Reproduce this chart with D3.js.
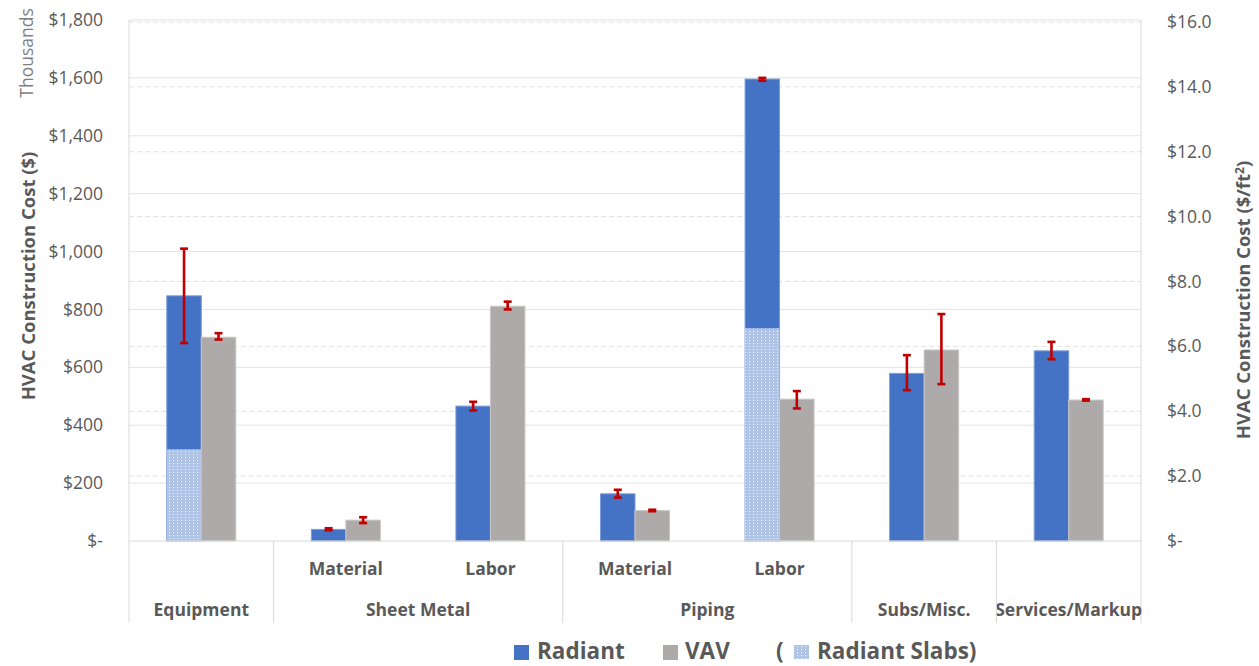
<!DOCTYPE html>
<html><head><meta charset="utf-8">
<script src="https://cdn.jsdelivr.net/npm/d3@7"></script>
<style>
html,body{margin:0;padding:0;background:#fff;}
svg text{font-family:"Open Sans","Noto Sans",sans-serif;}
</style></head>
<body>
<svg id="chart" width="1259" height="666"></svg>
<script>
// ---- data (thousands of $) ----
const subLabels = ["", "Material", "Labor", "Material", "Labor", "", ""];
const groupLabels = [
  {label:"Equipment", from:0, to:0},
  {label:"Sheet Metal", from:1, to:2},
  {label:"Piping", from:3, to:4},
  {label:"Subs/Misc.", from:5, to:5},
  {label:"Services/Markup", from:6, to:6}
];
const radiant      = [847, 40, 466, 163, 1596, 579, 657];
const radiantSlabs = [317, 0, 0, 0, 735, 0, 0];
const vav          = [704, 72, 811, 105, 490, 660, 487];
const radiantErrLow  = [684, 37, 451, 150, 1590, 521, 628];
const radiantErrHigh = [1010, 44, 481, 177, 1600, 642, 688];
const vavErrLow  = [696, 62, 800, 103, 458, 542, 485];
const vavErrHigh = [718, 82, 827, 108, 518, 784, 490];
const leftTicks  = [0, 200, 400, 600, 800, 1000, 1200, 1400, 1600, 1800];
const rightTicks = [0, 2, 4, 6, 8, 10, 12, 14, 16];

// ---- layout ----
const L = 129, R = 1141, T = 20, B = 541, AXB = 623;
const svg = d3.select("#chart");

const defs = svg.append("defs");
const pat = defs.append("pattern").attr("id","slab").attr("patternUnits","userSpaceOnUse")
  .attr("width",4).attr("height",3);
pat.append("rect").attr("width",4).attr("height",3).attr("fill","#b0c4e8");
pat.append("rect").attr("x",1).attr("y",1).attr("width",1).attr("height",1).attr("fill","#ffffff").attr("opacity",0.85);

const idx = d3.range(radiant.length);
const x0 = d3.scaleBand().domain(idx).range([L, R]).padding(0);
const y = d3.scaleLinear().domain([0, 1800]).range([B, T]);
const y2 = d3.scaleLinear().domain([0, 16]).range([B, 22]);
const bw = x0.bandwidth() * 0.2386;
const x1 = d3.scaleBand().domain(["radiant","vav"]).range([0, 2*bw]);
const off = (x0.bandwidth() - 2*bw) / 2;

// gridlines
const grid = svg.append("g");
grid.selectAll("line.solid").data(leftTicks.filter(d=>d>0)).join("line")
  .attr("x1",L).attr("x2",R).attr("y1",d=>y(d)).attr("y2",d=>y(d))
  .attr("stroke","#e3e3e3").attr("stroke-width",1);
grid.selectAll("line.dash").data(rightTicks.filter(d=>d>0)).join("line")
  .attr("x1",L).attr("x2",R).attr("y1",d=>y2(d)).attr("y2",d=>y2(d))
  .attr("stroke","#e0e0e0").attr("stroke-width",1).attr("stroke-dasharray","5,3");

// frame lines
svg.append("line").attr("x1",L).attr("x2",L).attr("y1",T).attr("y2",AXB).attr("stroke","#d9d9d9");
svg.append("line").attr("x1",R).attr("x2",R).attr("y1",T).attr("y2",AXB).attr("stroke","#d9d9d9");

// bars
const bars = svg.append("g");
bars.selectAll("rect.rad").data(idx).join("rect")
  .attr("x", i => x0(i) + off + x1("radiant"))
  .attr("y", i => y(radiant[i]))
  .attr("width", x1.bandwidth())
  .attr("height", i => y(0) - y(radiant[i]))
  .attr("fill","#4472c4").attr("stroke","#7d9bd6").attr("stroke-width",1);
bars.selectAll("rect.slab").data(idx.filter(i=>radiantSlabs[i]>0)).join("rect")
  .attr("x", i => x0(i) + off + x1("radiant"))
  .attr("y", i => y(radiantSlabs[i]))
  .attr("width", x1.bandwidth())
  .attr("height", i => y(0) - y(radiantSlabs[i]))
  .attr("fill","url(#slab)");
bars.selectAll("rect.vav").data(idx).join("rect")
  .attr("x", i => x0(i) + off + x1("vav"))
  .attr("y", i => y(vav[i]))
  .attr("width", x1.bandwidth())
  .attr("height", i => y(0) - y(vav[i]))
  .attr("fill","#aeaaaa").attr("stroke","#c9c6c6").attr("stroke-width",1);

// zero axis line
svg.append("line").attr("x1",L).attr("x2",R).attr("y1",B).attr("y2",B).attr("stroke","#d9d9d9").attr("stroke-width",1.2);

// error bars
const err = svg.append("g").attr("stroke","#c00000").attr("stroke-width",2.6);
function errBars(key, lo, hi){
  idx.forEach(i=>{
    const cx = x0(i) + off + x1(key) + x1.bandwidth()/2;
    err.append("line").attr("x1",cx).attr("x2",cx).attr("y1",y(lo[i])).attr("y2",y(hi[i]));
    [lo[i],hi[i]].forEach(v=>{
      err.append("line").attr("x1",cx-4).attr("x2",cx+4).attr("y1",y(v)).attr("y2",y(v));
    });
  });
}
errBars("radiant", radiantErrLow, radiantErrHigh);
errBars("vav", vavErrLow, vavErrHigh);

// left axis
const fmtL = d => d === 0 ? "$-" : "$" + d3.format(",")(d);
const gl = svg.append("g").attr("transform",`translate(${L},0)`)
  .call(d3.axisLeft(y).tickValues(leftTicks).tickFormat(fmtL).tickSize(0).tickPadding(26));
gl.select(".domain").remove();
gl.selectAll("text").attr("fill","#595959").style("font-size","17.5px").style("font-family","'Open Sans'");

// right axis
const fmtR = d => d === 0 ? "$-" : "$" + d3.format(".1f")(d);
const gr = svg.append("g").attr("transform",`translate(${R},0)`)
  .call(d3.axisRight(y2).tickValues(rightTicks).tickFormat(fmtR).tickSize(0).tickPadding(26));
gr.select(".domain").remove();
gr.selectAll("text").attr("fill","#595959").style("font-size","17.5px").style("font-family","'Open Sans'");

// axis titles
svg.append("text").attr("transform","translate(35,276) rotate(-90)").attr("text-anchor","middle")
  .attr("fill","#595959").style("font-size","18.5px").style("font-weight","bold")
  .text("HVAC Construction Cost ($)");
svg.append("text").attr("transform","translate(33,53) rotate(-90)").attr("text-anchor","middle")
  .attr("fill","#7f7f7f").style("font-size","17.5px")
  .text("Thousands");
const rt = svg.append("text").attr("transform","translate(1250,300) rotate(-90)").attr("text-anchor","middle")
  .attr("fill","#595959").style("font-size","18.5px").style("font-weight","bold");
rt.append("tspan").text("HVAC Construction Cost ($/ft");
rt.append("tspan").attr("dy",-6).style("font-size","12px").text("2");
rt.append("tspan").attr("dy",6).text(")");

// category axis
const cat = svg.append("g");
cat.selectAll("text.sub").data(idx.filter(i=>subLabels[i])).join("text")
  .attr("x", i => x0(i) + x0.bandwidth()/2).attr("y", 575)
  .attr("text-anchor","middle").attr("fill","#595959")
  .style("font-size","17.5px").style("font-weight","bold").text(i=>subLabels[i]);
cat.selectAll("text.grp").data(groupLabels).join("text")
  .attr("x", g => (x0(g.from) + x0(g.to) + x0.bandwidth())/2).attr("y", 616)
  .attr("text-anchor","middle").attr("fill","#595959")
  .style("font-size","17.5px").style("font-weight","bold").text(g=>g.label);
cat.selectAll("line.div").data(groupLabels.slice(1)).join("line")
  .attr("x1", g => x0(g.from)).attr("x2", g => x0(g.from))
  .attr("y1", B).attr("y2", AXB).attr("stroke","#d9d9d9");

// legend
const lg = svg.append("g");
const ly = 659, fs = "22.5px";
lg.append("rect").attr("x",514).attr("y",645).attr("width",15).attr("height",15).attr("fill","#4472c4");
lg.append("text").attr("x",537).attr("y",ly).attr("fill","#595959").style("font-size",fs).style("font-weight","bold").text("Radiant");
lg.append("rect").attr("x",663).attr("y",645).attr("width",15).attr("height",15).attr("fill","#aeaaaa");
lg.append("text").attr("x",685).attr("y",ly).attr("fill","#595959").style("font-size",fs).style("font-weight","bold").text("VAV");
lg.append("text").attr("x",776).attr("y",ly).attr("fill","#595959").style("font-size",fs).style("font-weight","bold").text("(");
lg.append("rect").attr("x",794).attr("y",645).attr("width",15).attr("height",14).attr("fill","url(#slab)");
lg.append("text").attr("x",817).attr("y",ly).attr("fill","#595959").style("font-size",fs).style("font-weight","bold").text("Radiant Slabs)");
</script>
</body></html>
